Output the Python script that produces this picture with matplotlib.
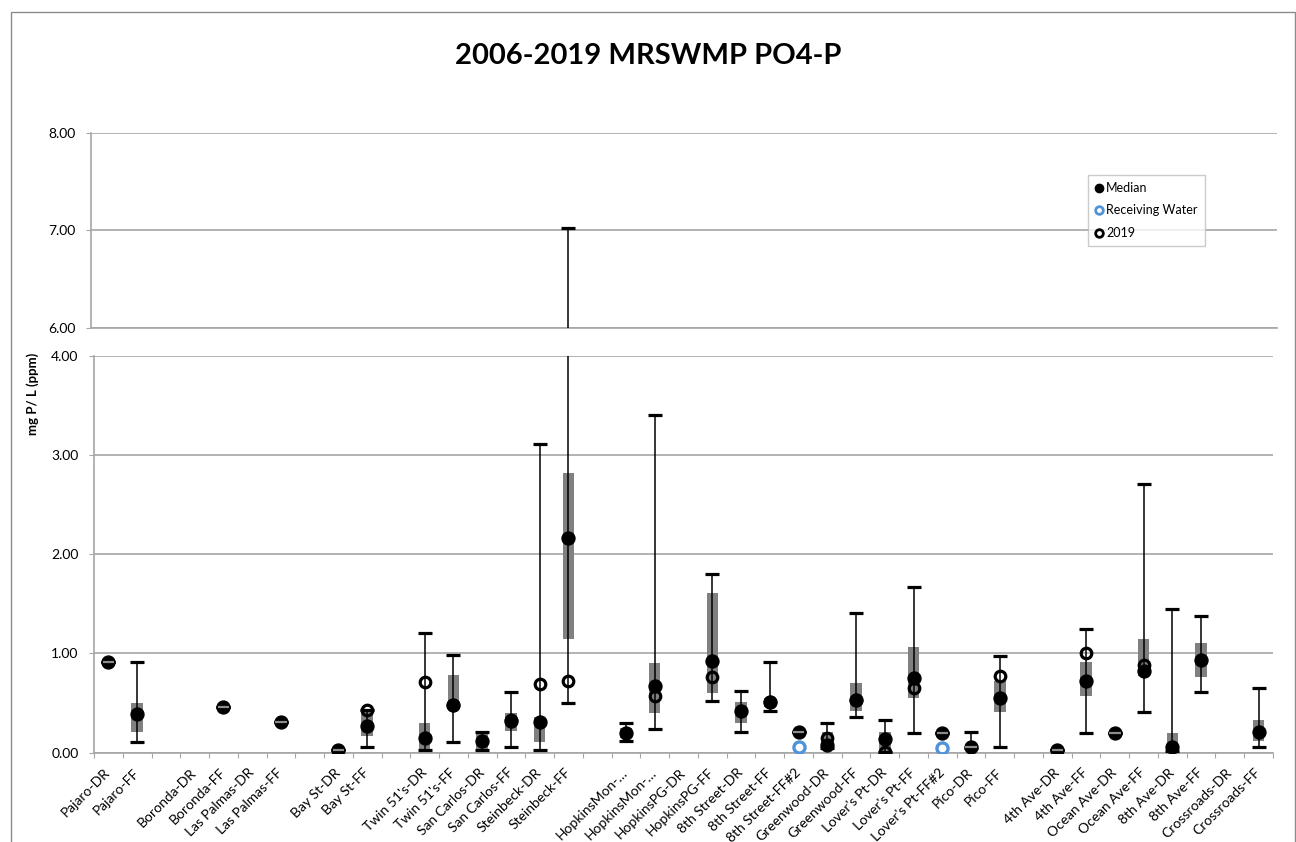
import matplotlib.pyplot as plt
import numpy as np
from matplotlib.lines import Line2D
from matplotlib.patches import Rectangle

plt.rcParams['font.family'] = ['Lato', 'DejaVu Sans']

nan = np.nan

sites = ["Pajaro-DR", "Pajaro-FF", "", "Boronda-DR", "Boronda-FF",
         "Las Palmas-DR", "Las Palmas-FF", "", "Bay St-DR", "Bay St-FF", "",
         "Twin 51's-DR", "Twin 51's-FF", "San Carlos-DR", "San Carlos-FF",
         "Steinbeck-DR", "Steinbeck-FF", "", "HopkinsMon-…", "HopkinsMon-…",
         "HopkinsPG-DR", "HopkinsPG-FF", "8th Street-DR", "8th Street-FF",
         "8th Street-FF#2", "Greenwood-DR", "Greenwood-FF", "Lover's Pt-DR",
         "Lover's Pt-FF", "Lover's Pt-FF#2", "Pico-DR", "Pico-FF", "",
         "4th Ave-DR", "4th Ave-FF", "Ocean Ave-DR", "Ocean Ave-FF",
         "8th Ave-DR", "8th Ave-FF", "Crossroads-DR", "Crossroads-FF"]

# PO4-P summary per site (mg P/L)
low = [0.91, 0.11, nan, nan, 0.46, nan, 0.31, nan, 0.03, 0.06, nan,
       0.03, 0.11, 0.03, 0.06, 0.03, 0.50, nan, 0.12, 0.24,
       nan, 0.52, 0.21, 0.42, 0.21, 0.05, 0.36, 0.01,
       0.20, 0.20, 0.05, 0.06, nan, 0.03, 0.20, 0.20, 0.41,
       0.02, 0.61, nan, 0.06]
q1 = [0.91, 0.21, nan, nan, 0.46, nan, 0.31, nan, 0.03, 0.17, nan,
      0.03, 0.47, 0.04, 0.22, 0.11, 1.15, nan, 0.15, 0.40,
      nan, 0.60, 0.30, 0.46, 0.21, 0.06, 0.42, 0.02,
      0.55, 0.20, 0.06, 0.41, nan, 0.03, 0.57, 0.20, 0.77,
      0.02, 0.76, nan, 0.12]
median = [0.91, 0.39, nan, nan, 0.46, nan, 0.31, nan, 0.03, 0.27, nan,
          0.15, 0.48, 0.12, 0.32, 0.31, 2.16, nan, 0.20, 0.67,
          nan, 0.92, 0.42, 0.51, 0.21, 0.08, 0.53, 0.14,
          0.75, 0.20, 0.06, 0.55, nan, 0.03, 0.72, 0.20, 0.82,
          0.06, 0.93, nan, 0.21]
q3 = [0.91, 0.50, nan, nan, 0.46, nan, 0.31, nan, 0.03, 0.42, nan,
      0.30, 0.78, 0.20, 0.40, 0.36, 2.82, nan, 0.25, 0.90,
      nan, 1.61, 0.51, 0.55, 0.21, 0.21, 0.70, 0.21,
      1.06, 0.20, 0.06, 0.72, nan, 0.03, 0.91, 0.20, 1.15,
      0.20, 1.11, nan, 0.33]
high = [0.91, 0.91, nan, nan, 0.46, nan, 0.31, nan, 0.03, 0.43, nan,
        1.21, 0.98, 0.21, 0.61, 3.11, 7.02, nan, 0.30, 3.40,
        nan, 1.80, 0.62, 0.91, 0.21, 0.30, 1.41, 0.33,
        1.67, 0.20, 0.21, 0.97, nan, 0.03, 1.25, 0.20, 2.71,
        1.45, 1.38, nan, 0.65]
y2019 = [nan, nan, nan, nan, nan, nan, nan, nan, nan, 0.43, nan,
         0.71, 0.48, nan, 0.33, 0.69, 0.72, nan, nan, 0.57,
         nan, 0.76, nan, 0.51, nan, 0.15, 0.53, 0.01,
         0.65, nan, nan, 0.77, nan, nan, 1.00, nan, 0.88,
         nan, nan, nan, nan]
receiving = [nan] * 41
receiving[24] = 0.06
receiving[29] = 0.05

low, q1, median, q3, high = map(np.array, (low, q1, median, q3, high))
y2019 = np.array(y2019)
receiving = np.array(receiving)
x = np.arange(len(sites))
has = ~np.isnan(median)

W, H = 1296, 842
fig = plt.figure(figsize=(W / 100, H / 100), dpi=100)


def box(x0, y0, x1, y1):
    return [x0 / W, 1 - y1 / H, (x1 - x0) / W, (y1 - y0) / H]


ax_top = fig.add_axes(box(90.7, 132.5, 1277, 327.7))
ax = fig.add_axes(box(94, 355.9, 1273, 752.6))

grid_c = '#a6a6a6'


def draw(a):
    a.bar(x[has], (q3 - q1)[has], bottom=q1[has], width=0.4,
          color='#808080', zorder=2)
    a.errorbar(x[has], median[has],
               yerr=[(median - low)[has], (high - median)[has]],
               fmt='none', ecolor='black', elinewidth=1.1,
               capsize=4.7, capthick=2.3, zorder=3)
    a.plot(x, median, 'o', ms=9.3, color='black', ls='none', zorder=4)
    flat = has & (q3 == q1)
    a.hlines(q1[flat], x[flat] - 0.2, x[flat] + 0.2, color='#8c8c8c',
             lw=1.6, zorder=5)
    a.plot(x, y2019, 'o', ms=7.6, mfc='none', mec='black', mew=2.3,
           ls='none', zorder=6)
    a.plot(x, receiving, 'o', ms=8, mfc='none', mec='#4F93D8', mew=2.4,
           ls='none', zorder=6)
    a.set_xlim(-0.5, len(sites) - 0.5)
    a.set_axisbelow(True)
    a.yaxis.grid(True, color=grid_c, lw=1.2)
    for s in ('top', 'right'):
        a.spines[s].set_visible(False)
    for s in ('left', 'bottom'):
        a.spines[s].set_color(grid_c)
        a.spines[s].set_linewidth(1.2)
    a.tick_params(axis='y', length=3.6, color=grid_c, pad=7.5, labelsize=10)


draw(ax_top)
draw(ax)

ax_top.set_ylim(6, 8)
ax_top.set_yticks([6, 7, 8])
ax_top.set_yticklabels(['6.00', '7.00', '8.00'])
ax_top.set_xticks([])

ax.set_ylim(0, 4)
ax.set_yticks([0, 1, 2, 3, 4])
ax.set_yticklabels(['0.00', '1.00', '2.00', '3.00', '4.00'])
ax.set_xticks(np.arange(len(sites) + 1) - 0.5)
ax.set_xticklabels([])
ax.tick_params(axis='x', which='major', length=3.6, color=grid_c)
ax.set_xticks(x, minor=True)
ax.set_xticklabels(sites, minor=True, rotation=45, ha='right', va='center',
                   rotation_mode='anchor', fontsize=10)
ax.tick_params(axis='x', which='minor', length=0, pad=13)

fig.text(0.5, 1 - 56.5 / H, '2006-2019 MRSWMP PO4-P', ha='center',
         va='center', fontsize=21, fontweight='bold')
fig.text(33 / W, 1 - 394 / H, 'mg P/ L (ppm)', rotation=90, ha='center',
         va='center', fontsize=9.5, fontweight='bold')

handles = [
    Line2D([], [], marker='o', ls='none', color='black', ms=6),
    Line2D([], [], marker='o', ls='none', mfc='none', mec='#4F93D8',
           mew=2, ms=5.5),
    Line2D([], [], marker='o', ls='none', mfc='none', mec='black',
           mew=2, ms=5.5),
]
fig.legend(handles, ['Median', 'Receiving Water', '2019'], loc='upper left',
           bbox_to_anchor=(1088 / W, 1 - 175 / H), frameon=True,
           fancybox=False, edgecolor='#bfbfbf', fontsize=9,
           handlelength=0.6, handletextpad=0.3, borderpad=0.55,
           labelspacing=0.85, borderaxespad=0)

fig.patches.append(Rectangle((11 / W, -0.1), (1295 - 11) / W,
                             1.1 - 12 / H, transform=fig.transFigure,
                             fill=False, edgecolor='#8c8c8c', lw=1))

fig.savefig('out.png', dpi=100)
